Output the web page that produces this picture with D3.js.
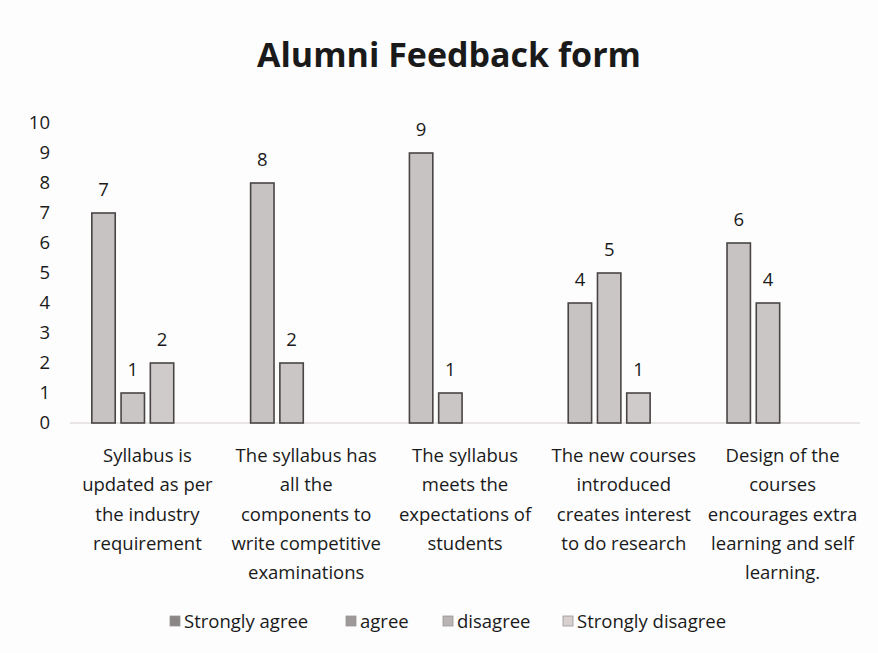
<!DOCTYPE html>
<html>
<head>
<meta charset="utf-8">
<script src="https://cdn.jsdelivr.net/npm/d3@7"></script>
<style>
  html, body { margin: 0; padding: 0; background: #fdfdfd; }
  svg { display: block; }
  text { font-family: "Open Sans", Lato, sans-serif; fill: #1a1a1a; }
</style>
</head>
<body>
<svg id="chart" width="878" height="653"></svg>
<script>
// Survey questions (x categories)
const categories = [
  "Syllabus is updated as per the industry requirement",
  "The syllabus has all the components to write competitive examinations",
  "The syllabus meets the expectations of students",
  "The new courses introduced creates interest to do research",
  "Design of the courses encourages extra learning and self learning."
];

// Response options (series)
const seriesNames = ["Strongly agree", "agree", "disagree", "Strongly disagree"];

// Number of responses per question, one array per series
const stronglyAgree    = [7, 8, 9, 4, 6];
const agree            = [1, 2, 1, 5, 4];
const disagree         = [2, 0, 0, 1, 0];
const stronglyDisagree = [0, 0, 0, 0, 0];

const yTicks = [0, 1, 2, 3, 4, 5, 6, 7, 8, 9, 10];

const seriesValues = [stronglyAgree, agree, disagree, stronglyDisagree];
const barFill    = ["#c8c3c3", "#cbc6c6", "#d0cbcb", "#d9d2d2"];
const swatchFill = ["#8b8686", "#9f9999", "#bab5b5", "#d8cfcf"];

const fontSize = "18.5px";
const svg = d3.select("#chart");

const x0 = d3.scaleBand()
  .domain(categories)
  .range([68, 862])
  .paddingInner(0.3)
  .paddingOuter(0.15);

const x1 = d3.scaleBand()
  .domain(seriesNames)
  .range([0, x0.bandwidth()])
  .paddingInner(0.2);

const y = d3.scaleLinear().domain([0, 10]).range([423, 123]);

// Title
svg.append("text")
  .attr("x", 449).attr("y", 67)
  .attr("text-anchor", "middle")
  .style("font-size", "34px").style("font-weight", "700")
  .text("Alumni Feedback form");

// Baseline
svg.append("line")
  .attr("x1", 70).attr("x2", 860)
  .attr("y1", y(0)).attr("y2", y(0))
  .attr("stroke", "#e2dcdc").attr("stroke-width", 1.5);

// Y axis labels (no axis line)
const yAxis = d3.axisLeft(y).tickValues(yTicks).tickSize(0).tickPadding(0);
const yG = svg.append("g").attr("transform", "translate(50,0)").call(yAxis);
yG.select(".domain").remove();
yG.selectAll("text")
  .style("font-size", fontSize).style("font-family", "'Open Sans', sans-serif")
  .attr("fill", "#1a1a1a");

// Bars
const groups = svg.append("g").selectAll("g")
  .data(categories)
  .join("g")
  .attr("transform", d => `translate(${x0(d)},0)`);

const cells = groups.selectAll("g")
  .data((c, ci) => seriesNames.map((s, si) => ({ s, si, v: seriesValues[si][ci] })))
  .join("g");

cells.filter(d => d.v > 0).append("rect")
  .attr("x", d => x1(d.s))
  .attr("y", d => y(d.v))
  .attr("width", x1.bandwidth())
  .attr("height", d => y(0) - y(d.v))
  .attr("fill", d => barFill[d.si])
  .attr("stroke", "#4a4545")
  .attr("stroke-width", 1.6);

cells.filter(d => d.v > 0).append("text")
  .attr("x", d => x1(d.s) + x1.bandwidth() / 2)
  .attr("y", d => y(d.v) - 17)
  .attr("text-anchor", "middle")
  .style("font-size", fontSize)
  .text(d => d.v);

// Category labels, wrapped to fit under each group
const labelWidth = 153;
svg.append("g").selectAll("text")
  .data(categories)
  .join("text")
  .attr("x", d => x0(d) + x0.bandwidth() / 2)
  .attr("y", 462)
  .attr("text-anchor", "middle")
  .style("font-size", fontSize)
  .each(function (d) {
    const t = d3.select(this);
    const words = d.split(" ");
    let line = [];
    let tspan = t.append("tspan").attr("x", t.attr("x")).attr("dy", 0);
    words.forEach(w => {
      line.push(w);
      tspan.text(line.join(" "));
      if (tspan.node().getComputedTextLength() > labelWidth && line.length > 1) {
        line.pop();
        tspan.text(line.join(" "));
        line = [w];
        tspan = t.append("tspan").attr("x", t.attr("x")).attr("dy", 29.3).text(w);
      }
    });
  });

// Legend
const legendX = [170, 346, 443, 563];
const legend = svg.append("g").selectAll("g")
  .data(seriesNames)
  .join("g")
  .attr("transform", (d, i) => `translate(${legendX[i]},621)`);
legend.append("rect")
  .attr("x", 0).attr("y", -5).attr("width", 10).attr("height", 10)
  .attr("fill", (d, i) => swatchFill[i])
  .attr("stroke", "#9a9595").attr("stroke-width", 0.8);
legend.append("text")
  .attr("x", 14).attr("y", 7)
  .style("font-size", fontSize)
  .text(d => d);
</script>
</body>
</html>
